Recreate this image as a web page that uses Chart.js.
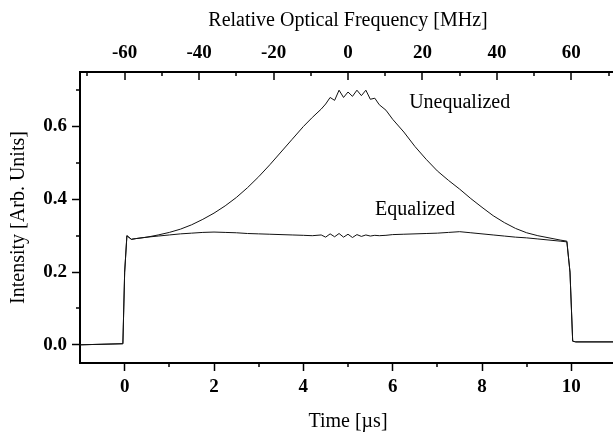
<!DOCTYPE html>
<html>
<head>
<meta charset="utf-8">
<script src="https://cdn.jsdelivr.net/npm/chart.js@4"></script>
<style>
  html, body { margin: 0; padding: 0; background: #fff; overflow: hidden; }
</style>
</head>
<body>
<canvas id="pulseChart" width="620" height="435" style="width:620px;height:435px;display:block"></canvas>
<script>
// time in microseconds
const times = [-1, -0.04, 0, 0.05, 0.15,
  0.25, 0.5, 0.75, 1, 1.25, 1.5, 1.75, 2, 2.25, 2.5, 2.75, 3, 3.25, 3.5, 3.75, 4,
  4.2, 4.4,
  4.5, 4.6, 4.7, 4.8, 4.9, 5.0, 5.1, 5.2, 5.3, 5.4, 5.5, 5.6, 5.7,
  5.85,
  6, 6.25, 6.5, 6.75, 7, 7.25, 7.5, 7.75, 8, 8.25, 8.5, 8.75, 9, 9.25, 9.5, 9.75,
  9.9, 9.97, 10.03, 10.1, 11];

const unequalized = [0, 0.003, 0.2, 0.30, 0.29,
  0.292, 0.296, 0.302, 0.309, 0.318, 0.33, 0.345, 0.362, 0.382, 0.405, 0.432, 0.462, 0.495, 0.53, 0.565, 0.60,
  0.625, 0.648,
  0.662, 0.68, 0.672, 0.70, 0.68, 0.695, 0.683, 0.70, 0.685, 0.70, 0.675, 0.678, 0.66,
  0.645,
  0.62, 0.585, 0.545, 0.51, 0.478, 0.452, 0.428, 0.402, 0.378, 0.355, 0.336, 0.32, 0.308, 0.30, 0.294, 0.288,
  0.285, 0.2, 0.01, 0.008, 0.008];

const equalized = [0, 0.003, 0.2, 0.30, 0.29,
  0.292, 0.296, 0.299, 0.302, 0.305, 0.307, 0.309, 0.31, 0.309, 0.308, 0.306, 0.305, 0.304, 0.303, 0.302, 0.301,
  0.30, 0.302,
  0.296, 0.305, 0.297, 0.306, 0.296, 0.304, 0.295, 0.303, 0.298, 0.302, 0.299, 0.301, 0.30,
  0.301,
  0.303, 0.304, 0.305, 0.306, 0.307, 0.309, 0.311, 0.308, 0.305, 0.302, 0.299, 0.296, 0.294, 0.291, 0.288, 0.285,
  0.283, 0.2, 0.01, 0.008, 0.008];

const timeTicks = [0, 2, 4, 6, 8, 10];
const timeMinor = [1, 3, 5, 7, 9];
const freqTicks = [-60, -40, -20, 0, 20, 40, 60];
const freqMinor = [-70, -50, -30, -10, 10, 30, 50, 70];
const intensityTicks = [0.0, 0.2, 0.4, 0.6];
const intensityMinor = [0.1, 0.3, 0.5, 0.7];

const labels = [
  { text: "Unequalized", t: 7.5, v: 0.665 },
  { text: "Equalized", t: 6.5, v: 0.37 }
];

const serif = "'Liberation Serif', 'Times New Roman', serif";

function toPoints(vals) {
  return times.map((t, i) => ({ x: t, y: vals[i] }));
}

function setTicks(list) {
  return function (scale) {
    scale.ticks = list.map(v => ({ value: v }));
  };
}

// minor ticks, top axis ticks (inward) and curve labels
const extras = {
  id: "extras",
  afterDraw(chart) {
    const ctx = chart.ctx;
    const { x, x2, y } = chart.scales;
    const area = chart.chartArea;
    ctx.save();
    ctx.strokeStyle = "#000";
    ctx.lineWidth = 1.5;
    ctx.beginPath();
    timeMinor.forEach(t => {
      const px = Math.round(x.getPixelForValue(t));
      ctx.moveTo(px, area.bottom);
      ctx.lineTo(px, area.bottom + 4);
    });
    freqTicks.forEach(f => {
      const px = Math.round(x2.getPixelForValue(f));
      ctx.moveTo(px, area.top);
      ctx.lineTo(px, area.top + 8);
    });
    freqMinor.forEach(f => {
      const px = Math.round(x2.getPixelForValue(f));
      ctx.moveTo(px, area.top);
      ctx.lineTo(px, area.top + 4);
    });
    intensityMinor.forEach(v => {
      const py = Math.round(y.getPixelForValue(v));
      ctx.moveTo(area.left, py);
      ctx.lineTo(area.left - 4, py);
    });
    ctx.stroke();

    ctx.fillStyle = "#000";
    ctx.font = "20px " + serif;
    ctx.textAlign = "center";
    ctx.textBaseline = "middle";
    labels.forEach(l => {
      ctx.fillText(l.text, x.getPixelForValue(l.t), y.getPixelForValue(l.v));
    });
    ctx.restore();
  }
};

const tickFont = { family: serif, size: 19, weight: "bold" };
const titleFont = { family: serif, size: 20 };

new Chart(document.getElementById("pulseChart"), {
  type: "line",
  data: {
    datasets: [
      { label: "Unequalized", data: toPoints(unequalized), borderColor: "#111", borderWidth: 1, pointRadius: 0, tension: 0 },
      { label: "Equalized", data: toPoints(equalized), borderColor: "#111", borderWidth: 1, pointRadius: 0, tension: 0 }
    ]
  },
  options: {
    responsive: false,
    animation: false,
    layout: { padding: { top: 0, right: 4, bottom: 0, left: 0 } },
    plugins: { legend: { display: false }, tooltip: { enabled: false } },
    scales: {
      x: {
        type: "linear",
        position: "bottom",
        min: -1,
        max: 11,
        afterBuildTicks: setTicks(timeTicks),
        afterFit: s => { s.height = 72; },
        grid: { drawOnChartArea: false, tickLength: 8, tickWidth: 1.5, color: "#000" },
        border: { color: "#000", width: 2 },
        ticks: { font: tickFont, color: "#000", padding: 5, maxRotation: 0, callback: v => String(v) },
        title: { display: true, text: "Time [µs]", font: titleFont, color: "#000", padding: { top: 0, bottom: 1 } }
      },
      x2: {
        type: "linear",
        position: "top",
        min: -72,
        max: 72,
        afterBuildTicks: setTicks(freqTicks),
        afterFit: s => { s.height = 72; },
        grid: { drawOnChartArea: false, drawTicks: false },
        border: { color: "#000", width: 2 },
        ticks: { font: tickFont, color: "#000", padding: 8, maxRotation: 0, callback: v => String(v) },
        title: { display: true, text: "Relative Optical Frequency [MHz]", font: titleFont, color: "#000", padding: { top: 9, bottom: 0 } }
      },
      y: {
        type: "linear",
        position: "left",
        min: -0.05,
        max: 0.75,
        afterBuildTicks: setTicks(intensityTicks),
        afterFit: s => { s.width = 80; },
        grid: { drawOnChartArea: false, tickLength: 8, tickWidth: 1.5, color: "#000" },
        border: { color: "#000", width: 2 },
        ticks: { font: tickFont, color: "#000", padding: 5, callback: v => v.toFixed(1) },
        title: { display: true, text: "Intensity [Arb. Units]", font: titleFont, color: "#000", padding: { top: 7, bottom: 0 } }
      }
    }
  },
  plugins: [extras]
});
</script>
</body>
</html>
